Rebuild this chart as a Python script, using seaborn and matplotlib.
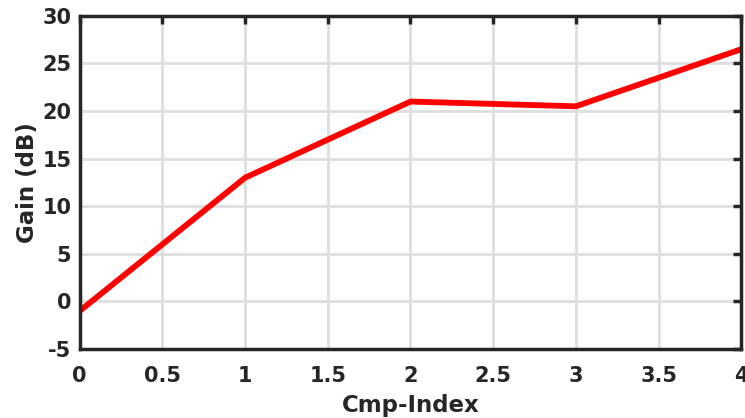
import matplotlib
matplotlib.use("Agg")
import matplotlib.pyplot as plt
import pandas as pd
import seaborn as sns

cmp_index = [0, 1, 2, 3, 4]
gain_db = [-1.0, 13.0, 21.0, 20.5, 26.5]
x_ticks = [0, 0.5, 1, 1.5, 2, 2.5, 3, 3.5, 4]
y_ticks = [-5, 0, 5, 10, 15, 20, 25, 30]

sns.set_theme(style="white")
plt.rcParams["font.family"] = ["DejaVu Sans"]
plt.rcParams["font.weight"] = "bold"

df = pd.DataFrame({"Cmp-Index": cmp_index, "Gain (dB)": gain_db})

fig = plt.figure(figsize=(7.45, 4.18), dpi=100)
ax = fig.add_axes([0.107, 0.165, 0.888, 0.797])
sns.lineplot(data=df, x="Cmp-Index", y="Gain (dB)", color="#ff0000", lw=4.2, ax=ax)

ax.set_xlim(0, 4)
ax.set_ylim(-5, 30)
ax.set_xticks(x_ticks)
ax.set_yticks(y_ticks)
ax.set_xticklabels([f"{t:g}" for t in x_ticks])
ax.set_yticklabels([f"{t:g}" for t in y_ticks])
ax.grid(True, color="#dedede", lw=2)
ax.set_axisbelow(True)

for spine in ax.spines.values():
    spine.set_color("#262626")
    spine.set_linewidth(2.5)
ax.tick_params(direction="in", length=6, width=2.5, color="#262626",
               top=True, right=True, labelsize=15, labelcolor="#262626")
ax.tick_params(axis="x", pad=12)
ax.tick_params(axis="y", pad=6)
for lab in ax.get_xticklabels() + ax.get_yticklabels():
    lab.set_fontweight("bold")
ax.set_xlabel("Cmp-Index", fontsize=16.5, fontweight="bold", color="#262626", labelpad=6)
ax.set_ylabel("Gain (dB)", fontsize=16.5, fontweight="bold", color="#262626", labelpad=2)

fig.savefig("out.png", dpi=100)
plt.close(fig)
